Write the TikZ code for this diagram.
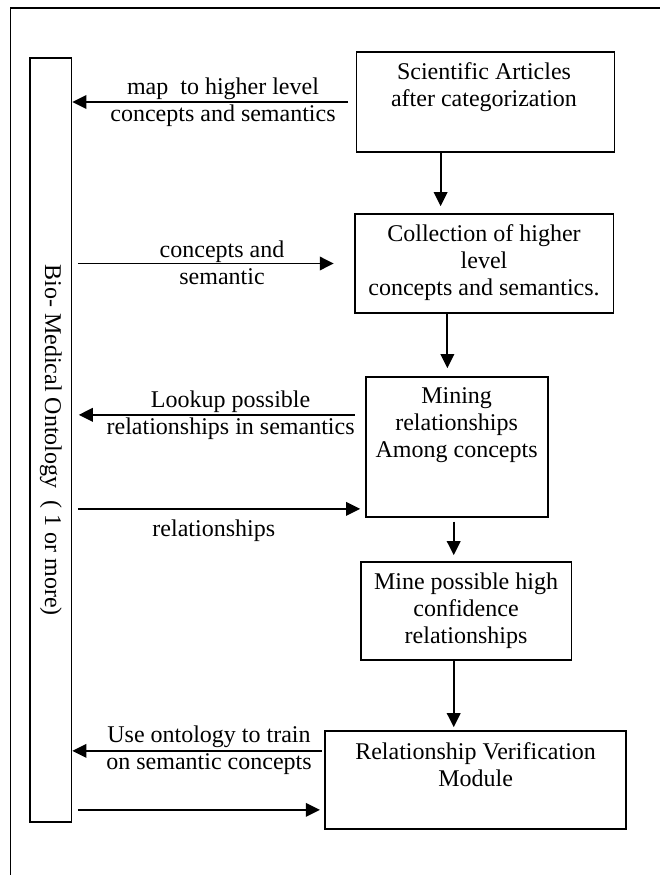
\documentclass[tikz,border=0pt]{standalone}
\usepackage{fontspec}
\setmainfont{Liberation Serif}
\usetikzlibrary{arrows.meta}

\begin{document}
\begin{tikzpicture}[x=1pt,y=-1pt,font=\fontsize{24}{27}\selectfont,>={Triangle[length=14pt,width=13.5pt]}]
\tikzset{box/.style={draw,line width=1.7pt,inner sep=0pt},
  txt/.style={align=center,inner sep=0pt},
  arr/.style={->,line width=1.9pt}}

\useasboundingbox (0,0) rectangle (660,875);
\draw[line width=1.8pt] (10.5,875)--(10.5,8)--(660,8);

\node[box,minimum width=41.5pt,minimum height=764pt] (onto) at (50.75,440) {};
\node[txt,rotate=-90] (onto-t) at (onto.center) {Bio- Medical Ontology\ \ ( 1 or more)};

\node[box,minimum width=258pt,minimum height=100pt] (sci) at (485.5,102) {};
\node[txt] (sci-t) at (484,87) {Scientific Articles\\after categorization};
\node[box,minimum width=258.6pt,minimum height=99pt] (coll) at (484.3,263.5) {};
\node[txt] (coll-t) at (484,262.3) {Collection of higher\\level\\concepts and semantics.};
\node[box,minimum width=182pt,minimum height=140pt] (mining) at (457,447) {};
\node[txt] (mining-t) at (456.6,425.3) {Mining\\relationships\\Among concepts};
\node[box,minimum width=210.8pt,minimum height=98pt] (mine) at (466.1,611) {};
\node[txt] (mine-t) at (466,610.3) {Mine possible high\\confidence\\relationships};
\node[box,minimum width=301pt,minimum height=98.6pt] (rv) at (475.8,780) {};
\node[txt] (rv-t) at (475.6,765) {Relationship Verification\\Module};

\draw[arr,shorten <=7.5pt] (sci.west) -- (sci.west -| onto.east);
\node[txt] (map-l) at (223,102) {map\ \ to higher level\\concepts and semantics};

\draw[arr,shorten <=5.5pt,shorten >=20.4pt] (onto.east |- coll.west) -- (coll.west);
\node[txt] (conc-l) at (222,263) {concepts and\\semantic};

\coordinate (look) at ([yshift=-38.7pt]mining.north west);
\draw[arr,shorten <=10.4pt,shorten >=6.4pt] (look) -- (look -| onto.east);
\node[txt] (look-l) at (230.6,415.7) {Lookup possible\\relationships in semantics};

\coordinate (rel) at ([yshift=9pt]mining.south west);
\draw[arr,shorten <=5.5pt,shorten >=5pt] (rel -| onto.east) -- (rel);
\node[txt] (rel-l) at (213.8,530.3) {relationships};

\coordinate (use) at ([yshift=-21pt]rv.north west);
\draw[arr,shorten <=2.5pt] (use) -- (use -| onto.east);
\node[txt] (use-l) at (209,750.7) {Use ontology to train\\on semantic concepts};

\coordinate (ver) at ([yshift=20.3pt]rv.south west);
\draw[arr,shorten <=5.5pt,shorten >=4.6pt] (ver -| onto.east) -- (ver);

\coordinate (d1) at ([xshift=-44.9pt]sci.south);
\draw[arr,shorten >=7pt] (d1) -- (d1 |- coll.north);
\coordinate (d2) at ([xshift=-9.6pt]mining.north);
\draw[arr,shorten >=8pt] (d2 |- coll.south) -- (d2);
\coordinate (d3) at ([xshift=-3.3pt]mining.south);
\draw[arr,shorten <=3.7pt,shorten >=6pt] (d3) -- (d3 |- mine.north);
\coordinate (d4) at ([xshift=-12.4pt]mine.south);
\draw[arr,shorten >=2.7pt] (d4) -- (d4 |- rv.north);
\end{tikzpicture}
\end{document}
